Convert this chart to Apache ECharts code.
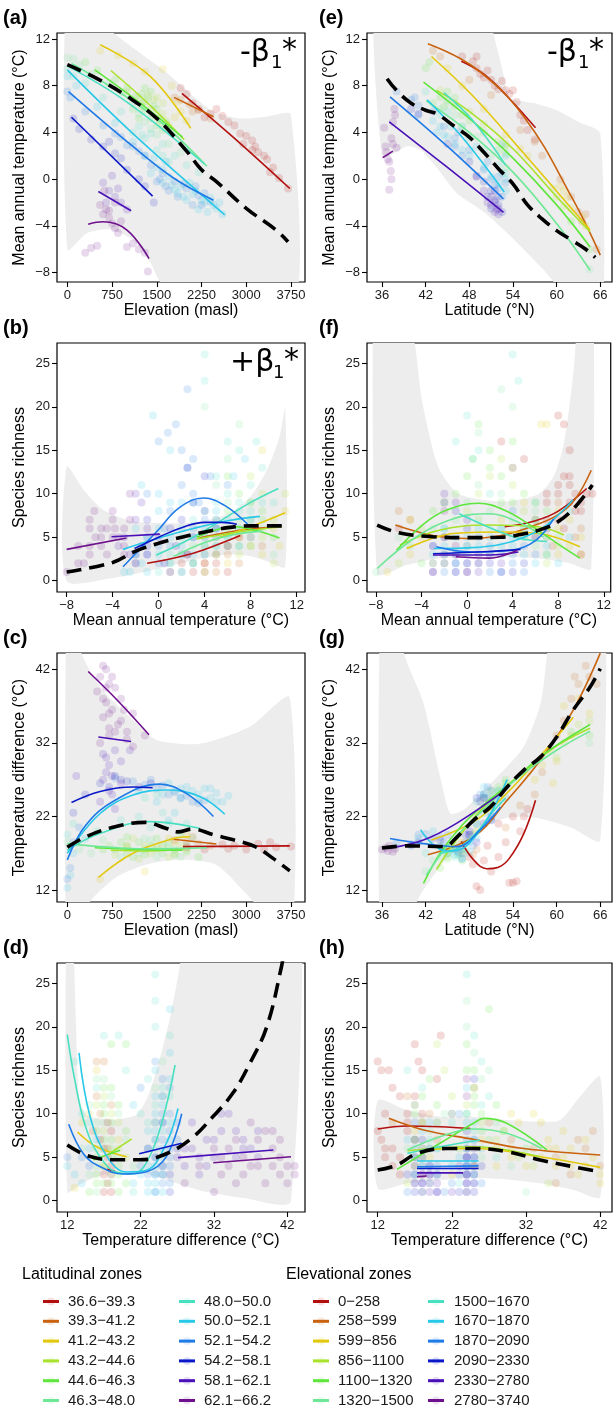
<!DOCTYPE html>
<html><head><meta charset="utf-8">
<script src="https://cdn.jsdelivr.net/npm/echarts@6/dist/echarts.min.js"></script>
<style>html,body{margin:0;padding:0;background:#fff}#c{width:614px;height:1410px}</style>
</head><body><div id="c"></div>
<script>
// ---------- palette & zone labels ----------
const palette = ['#B2100E','#C8620E','#E2C80C','#A8E22A','#5EE63C','#6EE896','#48E0C0','#28C8E8','#1E7AE6','#0A18C8','#4A10B8','#6E108C'];
const latZones = ['36.6\u221239.3','39.3\u221241.2','41.2\u221243.2','43.2\u221244.6','44.6\u221246.3','46.3\u221248.0','48.0\u221250.0','50.0\u221252.1','52.1\u221254.2','54.2\u221258.1','58.1\u221262.1','62.1\u221266.2'];
const elevZones = ['0\u2212258','258\u2212599','599\u2212856','856\u22121100','1100\u22121320','1320\u22121500','1500\u22121670','1670\u22121870','1870\u22122090','2090\u22122330','2330\u22122780','2780\u22123740'];

// ---------- tick labels ----------
const ticksElev = [0,750,1500,2250,3000,3750];
const ticksMAT = [-8,-4,0,4,8,12];
const ticksLat = [36,42,48,54,60,66];
const ticksRich = [0,5,10,15,20,25];
const ticksTD = [12,22,32,42];

// ---------- panel (a): elevation vs MAT, latitudinal zones ----------
const ptsA = [
 [[1900,7.8],[2000,7.3],[2100,6.5],[2200,6.0],[2300,5.3],[2400,5.6],[2500,6.0],[2600,5.4],[2700,4.9],[2800,4.6],[2900,3.9],[2950,3.0],[3000,3.7],[3100,3.3],[3100,2.5],[3150,2.8],[3200,2.3],[3300,2.0],[3350,1.7],[3400,0.6],[3450,1.0],[3550,0.1],[3700,-0.8]],
 [[1800,7.0],[1900,6.8],[2050,6.4],[2100,5.8],[2200,5.9],[2400,5.2]],
 [[550,11.0],[850,10.6],[1100,9.9],[1300,9.2],[1600,9.4],[1750,8.0],[1800,5.3],[1850,6.6],[1900,5.8],[2000,5.0]],
 [[1000,7.5],[1200,7.0],[1300,6.6],[1350,7.2],[1400,6.0],[1450,6.8],[1500,5.4],[1550,4.8],[1600,5.6],[1700,4.6],[1250,6.2],[1500,7.0],[1600,6.5],[1650,5.0]],
 [[300,10.0],[500,9.3],[800,8.5],[1000,7.8],[1150,7.1],[1250,6.5],[1250,7.3],[1300,5.9],[1350,6.9],[1400,5.2],[1500,4.6],[1600,4.2],[1100,6.0],[1200,5.2],[1300,7.8],[1400,7.5],[1450,6.3],[1500,6.0],[1550,5.2],[1650,4.8]],
 [[0,10.4],[100,10.3],[200,9.8],[400,9.0],[700,8.2],[900,7.4],[1100,6.6],[1200,5.6],[1300,4.9],[1400,4.3],[1500,3.8],[1700,3.0],[1900,2.3]],
 [[0,9.4],[100,8.8],[300,8.2],[600,7.0],[900,5.8],[1100,4.0],[1200,4.5],[1250,3.8],[1400,3.9],[1600,3.0],[1800,2.0],[2000,1.2],[2200,0.6],[1300,3.5],[1500,2.5],[1600,2.0],[1700,1.5]],
 [[0,8.8],[150,8.0],[500,6.2],[800,4.8],[1100,3.2],[1300,2.0],[1400,0.5],[1500,1.0],[1600,-0.3],[1700,0.2],[1800,-0.9],[1900,-0.6],[2000,-1.8],[2100,-1.3],[2200,-2.6],[2300,-2.0],[2400,-1.6],[2500,-2.5],[2600,-3.0],[1600,0.8],[1750,-0.5],[1850,-1.2],[1950,-1.5],[2050,-0.3],[2150,-1.0],[2250,-1.8],[2350,-2.8],[2450,-2.2],[2550,-2.0],[1650,1.5],[1450,1.8]],
 [[0,7.5],[50,7.0],[300,5.8],[600,4.6],[900,3.6],[1100,2.8],[1200,2.4],[1400,1.2],[1500,-0.2],[1600,0.5],[1700,-1.0],[1800,-0.2],[2000,-0.8],[2100,-2.2],[2200,-1.4],[2300,-1.2],[2400,-1.9],[1300,2.0],[1550,0.0],[1650,-0.6],[1850,-1.5],[1950,-0.4],[2150,-0.6],[2250,-2.2],[1000,2.9],[800,3.9]],
 [[100,5.2],[200,4.3],[400,3.4],[600,2.8],[700,3.2],[800,2.2],[900,1.8],[1000,0.8],[1200,0.0],[1300,-0.6],[1450,-2.0]],
 [[600,-0.3],[650,-2.0],[700,-1.0],[750,0.3],[800,-1.5],[850,-0.8],[900,-2.0],[1000,-2.6]],
 [[300,-6.3],[400,-5.9],[500,-5.7],[550,-2.2],[600,-3.0],[620,-1.0],[650,-2.6],[700,-3.3],[700,-2.7],[750,-3.8],[800,-4.2],[800,-2.0],[850,-4.6],[900,-3.6],[1000,-5.8],[1100,-5.5],[1200,-6.0],[1300,-6.3],[1350,-7.9]]
];
const curvesA = [
 [0,[[1920,7.35],[2780,3.6],[3730,-0.8]]],
 [1,[[1790,7.0],[2450,5.35]]],
 [2,[[550,11.5],[1390,8.8],[2070,4.35]]],
 [3,[[730,9.3],[1350,6.5],[1960,3.4]]],
 [4,[[460,9.35],[1200,6.6],[1930,3.6]]],
 [5,[[70,9.9],[1390,5.6],[2340,1.1]]],
 [6,[[0,9.7],[1000,6.6],[2300,1.3]]],
 [7,[[0,9.35],[1100,3.9],[2640,-3.05]]],
 [8,[[20,7.5],[1100,2.8],[1780,0.1],[2450,-1.8]]],
 [9,[[70,5.3],[1430,-1.45]]],
 [10,[[520,-1.05],[1070,-2.7]]],
 [11,[[350,-3.85],[600,-3.65],[1000,-4.35],[1370,-6.8]]]
];
const blackA = [[0,9.8],[500,8.6],[1000,7.1],[1500,5.2],[2000,2.4],[2250,0.8],[2500,-0.2],[3000,-2.5],[3500,-4.35],[3700,-5.35]];
const upA = [[0,17],[400,14],[771,12.5],[1218,10.8],[1666,9.1],[2113,7.1],[2448,5.8],[2895,5.2],[3342,5.35],[3750,5.5]];
const loA = [[0,-6.0],[335,-4.6],[720,-4.3],[1100,-5.2],[1390,-7.1],[1560,-8.8],[2000,-11],[3750,-12]];

// ---------- panel (e): latitude vs MAT, elevational zones ----------
const ptsE = [
 [[47,10.5],[48.5,10.1],[49,9.5],[49,10.5],[49.5,9.0],[50,8.7],[50.5,9.3],[51,8.5],[51.5,8.0],[52,7.7],[52.5,8.4],[53,7.6],[53.5,7.3],[54,7.6],[54.5,6.6],[55,5.5],[55.5,5.0],[56,4.2],[57,3.4]],
 [[43,11],[44,10.5],[48,8.5],[51,7.2],[55,4.2],[57,3.2],[58,2.0],[60.5,0.0],[62,-1.5],[63,-2.8],[63.5,-3.6],[64,-3.0],[65.5,-6.0]],
 [[45,9.5],[47,8.0],[50,6.0],[53,3.8],[55,2.6],[56,2.0],[60.5,-0.6],[61,-1.0],[61.5,-1.5],[62,-2.5],[63.5,-3.2],[64,-4.0]],
 [[44,7.6],[46,6.5],[48,5.8],[50,4.7],[52,3.2],[53,3.0],[59.5,-0.8],[60,-1.5],[61,-2.3]],
 [[42,9.5],[42.5,10.0],[44,7.0],[45,6.8],[46,6.2],[47,5.5],[48,5.0],[50,4.0],[52,2.5],[53,2.2],[62,-3.6],[64.5,-6.0],[45,7.5],[46,7.0],[44.5,6.2],[43,6.5],[53,2.8]],
 [[44,6.0],[45,6.5],[46,5.5],[47,4.5],[49,3.6],[51,2.0],[53,1.0],[64.5,-7.7]],
 [[42,7.5],[44,5.5],[45,5.8],[47,4.5],[48,3.5],[50,2.5],[52,1.2],[53,0.5]],
 [[43,5.0],[43.5,4.0],[44,4.5],[45,3.6],[46,3.0],[47,2.5],[48,2.0],[49,2.8],[50,1.0],[51,0.2],[52,-0.4],[53,-1.0],[52.5,0.5],[53,0.0],[53,2.0],[52.5,3.0],[44.5,3.8],[45.5,4.5]],
 [[38,7.5],[40,6.8],[40.5,7.0],[41,6.3],[41,5.5],[43,5.8],[44.5,4.5],[46,3.5],[46.5,4.0],[48,2.5],[50,0.8],[51,0.0],[52,-0.8],[52.5,-1.5],[50.5,1.5],[51.5,-0.5],[52,0.2],[53,-0.3],[46,2.8],[47,2.0]],
 [[40,6.0],[41,5.6],[45,3.0],[48,1.5],[49,0.3],[50,-0.2],[51,-1.0],[51.5,-1.8],[52,-2.2],[51,-2.5],[51.5,-1.0],[52,-1.5],[52.5,-2.8],[50.5,-1.5]],
 [[49,0.2],[50,-1.0],[50.5,-2.0],[51,-2.2],[51,-1.5],[51.5,-2.8],[52,-2.5],[52,-3.0],[51.5,-2.0],[51.8,-2.6]],
 [[36.3,4.4],[36.5,2.8],[36.6,2.3],[36.8,1.7],[37,1.5],[37.2,0.7],[37.3,0.0],[37,-0.9],[37.3,3.5],[37.5,3.0],[37.5,4.9],[37.7,6.0],[37.8,5.5],[38,2.7]]
];
const curvesE = [
 [0,[[46.9,10.1],[50,9.0],[53.2,7.1],[57.1,4.4]]],
 [1,[[42.3,11.6],[48.6,9.6],[55.5,5.35],[62.3,-1.8],[66,-6.5]]],
 [2,[[42.8,10.5],[48.6,7.05],[55.5,2.2],[64.6,-4.35]]],
 [3,[[43.5,7.6],[48,5.8],[54,2.6],[60,-1.5],[64.6,-4.5]]],
 [4,[[41.7,8.3],[48,5.2],[54,1.8],[60,-2.2],[64.6,-5.8]]],
 [5,[[42.1,6.7],[48,4.0],[54,0.6],[60,-3.8],[64.6,-7.8]]],
 [6,[[44.5,7.4],[48.5,5.0],[53,1.2]]],
 [7,[[42.2,6.8],[47,3.6],[52.8,-1.1]]],
 [8,[[37.1,7.05],[45,2.8],[52.7,-1.7]]],
 [10,[[37.0,4.9],[45,1.0],[52.7,-2.85]]],
 [11,[[36.1,1.85],[37.5,2.4]]]
];
const blackE = [[36.7,8.6],[38,7.6],[40,6.5],[42,5.9],[43.5,5.6],[46,4.5],[48,3.6],[50,2.3],[52,0.9],[54,-0.4],[56,-2.2],[58,-3.4],[60,-4.4],[62,-5.2],[64,-6.0],[65.3,-6.7]];
const upE = [[36,20],[50,16],[51.3,12.5],[52.5,9.5],[53.5,7.0],[55,6.7],[57,6.5],[60,5.9],[63,4.9],[66,3.9]];
const loE = [[36,1.9],[39.4,2.8],[41.3,2.5],[43.5,1.0],[46.3,-1.2],[50,-2.8],[53.2,-4.6],[57.8,-7.5],[59.6,-8.8],[62,-11],[66,-14]];

// ---------- panel (b): MAT vs richness, latitudinal zones ----------
const ptsB = [
 [[1,1],[2,2],[2.5,3],[3,1],[4,2],[4,1],[5,3],[5,2],[6,4],[6,1],[7,5]],
 [[4,2],[5,1],[6,3],[7,2],[8,5],[9,4]],
 [[6,2],[7,5],[8,4],[9,3],[9,15],[10,6],[10.5,4],[11,8]],
 [[4,1],[5,5],[6,4],[7,3],[8,6],[8,12],[9,5],[9,10],[10,7],[10,2],[11,10]],
 [[3,2],[4,4],[5,3],[6,6],[6,12],[7,4],[7,10],[8,7],[8,9],[9,8],[10,5],[6,8],[7,6],[8,4],[9,7]],
 [[1,2],[2,1],[3,4],[4,3],[4,20],[5,6],[5,11],[6,5],[6,14],[7,7],[7,18],[8,9],[9,6],[2,3],[3,2],[4,5],[5,4],[10,3],[5,7],[6,9]],
 [[0,1],[1,3],[2,5],[3,7],[4,26],[4,23],[4,8],[5,9],[5,12],[6,10],[6,16],[7,8],[7,15],[8,11],[8.5,16],[9,13],[10,9],[7,9],[8,8],[9,9]],
 [[-3,1],[-2.5,1],[-1.5,2],[-1.5,11],[-1,1],[-0.5,19],[0,3],[0,10],[1,2],[1,9],[1,15],[2,4],[3,5],[3,9],[4,6],[5,4],[5,8],[6,7],[6.5,12],[7,6],[7.5,14],[8,5],[-2,3],[-1,5],[0,6],[1,5],[2,6],[3,3],[4,4],[5,6],[6,5],[7,4],[8,7],[-2,6],[0,8],[2,9]],
 [[-2,2],[-1,3],[-1,10],[0,4],[0,16],[0.5,6],[0.8,17],[1,8],[1.5,18],[2,11],[2,15],[2.5,13],[2.5,22],[3,10],[3,14],[3.5,9],[4,7],[4.5,12],[5,5],[6,11],[-1,5],[0,2],[1,4],[2,3],[3,6],[4,5],[5,7],[6,4],[1,1],[2,1],[3,2],[4,3]],
 [[-2,3],[-1,4],[-1,7],[0,5],[0.5,2],[1,6],[1.5,4],[2,7],[2.5,3],[2.5,13],[3,9],[3,5],[4,8],[4,12],[5,6]],
 [[-3.5,4],[-3,5],[-2.5,3],[-2,7],[-2,10],[-1.5,4],[-1.5,9],[-1,6],[-1,3]],
 [[-8,1],[-7,4],[-6.5,2],[-6,3],[-6,6],[-6,7],[-5.6,8],[-5,4],[-5,5],[-4.5,3],[-4,7],[-4,5],[-3.8,6],[-3.5,5],[-3,4],[-3,6],[-2.5,7],[-2.5,10],[-2,2],[-7,2],[-6,4],[-5,6],[-4,8],[-3,3],[-4.5,6],[-5.5,5]]
];
const curvesB = [
 [0,[[-1,2.0],[2,2.8],[4,3.6],[7.1,5.2]]],
 [1,[[3.5,4.9],[7,5.8],[9.5,6.1]]],
 [2,[[5.3,5.0],[8,6.2],[11,7.8]]],
 [3,[[3.3,4.8],[7,5.6],[10.7,6.2]]],
 [4,[[3.3,5.0],[6.5,6.2],[10.5,4.9]]],
 [5,[[1.3,2.8],[4,4.4],[6.5,5.3],[9,5.7]]],
 [6,[[-0.2,2.95],[3,5.0],[6,7.4],[8,9.0],[10.4,10.6]]],
 [7,[[-3.1,3.6],[0,4.9],[3,6.0],[6,6.9],[8.8,7.4]]],
 [8,[[-3.1,1.6],[-0.2,5.6],[1.8,8.4],[3.9,9.5],[5.8,8.6],[7.8,6.4]]],
 [9,[[-2.1,3.7],[0,5.0],[2,6.1],[4,6.7],[5.5,6.7],[6.8,6.5]]],
 [10,[[-4.1,5.05],[0.1,5.35]]],
 [11,[[-8,3.6],[-2.8,4.9]]]
];
const blackB = [[-8,1.0],[-4,2.1],[-2,3.4],[0,4.3],[2,5.0],[4,5.6],[6,6.1],[8,6.3],[11,6.3]];
const upB = [[-8,13.1],[-6.5,10.4],[-5,8.3],[-3.6,7.4],[-2.2,6.8],[0.7,6.6],[3,6.7],[5,7.2],[6.5,8.0],[8,9.7],[9.4,12.7],[10.5,16.5],[11,19.8]];
const loB = [[-8,0],[-4,0.3],[-2,0.8],[2,2.0],[4,2.6],[6,3.0],[8,2.8],[9.5,2.2],[11,1.6]];

// ---------- panel (f): MAT vs richness, elevational zones ----------
const ptsF = [
 [[-6,6],[3,16],[4,13],[5,14],[6,5],[7,10],[7,7],[8,11],[8,19],[8.5,12],[8.5,18],[8.5,6],[9,15],[9,9],[9.5,10],[9.5,8],[10,8],[10,3],[10.5,10],[11,10],[7,9],[8,10],[9,12],[10,9],[9,11],[8,7]],
 [[-6,8],[-5,7],[6,7],[7,6],[7.5,4],[8,9],[9.5,5],[10,6]],
 [[-7,1],[-5,7],[-4,5],[3,7],[5,9],[6,6],[6.5,18],[7,5],[7,18],[8,8],[8,3],[9,4],[10,3],[-5,3],[-3,2],[8,6],[9,7],[10,5]],
 [[-6,2],[-4,6],[-2,9],[0,8],[1,10],[2,12],[3,14],[4,11],[5,8],[6,7],[7,2],[8,4]],
 [[-5,4],[-3,8],[-1,10],[0,12],[0.5,14],[1,18],[2,13],[2,15],[3,12],[4,16],[4,9],[5,10],[6,9],[7,8],[-4,2],[-2,2],[1,7],[3,9],[5,5],[7,3]],
 [[-8,1],[-6,5],[-3,6],[-1,7],[0,9],[1,11],[1,17],[2,8],[3,10],[3,22],[4,13],[4,20],[5,6],[6,4],[-2,3],[0,4],[2,6],[4,7],[6,8],[8,5]],
 [[-2,6],[-1,16],[0,19],[0.5,14],[1,15],[2,10],[3,6],[4,26],[4.5,23],[5,5],[6,9],[7,3],[9,8]],
 [[-3,3],[-2,4],[-1,5],[0,3],[1,4],[2,5],[3,6],[4,4],[5,3],[6,7],[7,5],[8,2],[9,5],[-2,6],[-1,2],[0,5],[1,6],[2,3],[3,4],[4,5],[5,6],[6,2],[7,4]],
 [[-3,2],[-2,1],[-1,3],[0,4],[1,2],[2,1],[3,3],[4,2],[4,8],[5,4],[6,3],[7,6],[-3,4],[-2,5],[-1,1],[0,2],[1,5],[2,4],[3,1],[4,3],[5,1],[6,5]],
 [[-3,1],[-2,3],[-2,9],[-1,2],[-1,8],[0,1],[0,6],[1,3],[2,2],[3,1],[4,1],[5,2]],
 [[-3,4],[-2,2],[-2,10],[-1,1],[-1,9],[0,2],[0,7],[1,1],[2,3],[3,2]],
 [[-3,1],[-2,5],[-2,8],[-1,3],[-1,4],[0,1],[1,2]]
];
const curvesF = [
 [0,[[3.3,6.2],[6,6.9],[8,8.0],[10.5,10.6]]],
 [1,[[-6.3,6.4],[-3,5.2],[0,4.85],[3,5.2],[6,6.4],[8,7.6],[9.5,9.4],[10.9,12.7]]],
 [2,[[-5.3,3.7],[-1,5.45],[3.3,5.6],[6.2,5.45],[9.9,3.9]]],
 [3,[[-5.9,4.1],[-2.45,5.8],[1.9,6.4],[6.2,6.2],[8.5,5.25]]],
 [4,[[-6.2,3.5],[-4,6.3],[-2,8.0],[1,8.9],[3.3,8.1],[6,6.0],[8,4.2],[9.9,2.6]]],
 [5,[[-7.9,1.4],[-4.5,5.0],[-1,7.2],[1.9,7.7],[4.7,6.6],[6.7,5.0]]],
 [6,[[-0.7,7.7],[2,6.1],[4.5,4.9],[7,4.5]]],
 [7,[[-2.9,3.7],[0.4,3.8],[3,4.2],[5,5.0],[7,6.4],[9.3,9.3]]],
 [8,[[-2.7,3.9],[0.4,3.3],[3.9,3.5],[6,4.6],[7.6,7.1]]],
 [9,[[-3,3.1],[1.9,3.35],[4.7,3.6]]],
 [10,[[-3,2.95],[2,2.95],[4.5,3.3]]],
 [11,[[-1,2.75],[1.9,2.6],[4.4,3.5]]]
];
const blackF = [[-7.9,6.4],[-6,5.5],[-3,5.05],[0,4.95],[3,5.0],[5,5.4],[6.5,5.9],[8,6.8],[9.5,8.5],[11,11.0]];
const upF = [[-7.9,45],[-5.5,32],[-4.6,27.3],[-4,21],[-3,15],[-2.4,12.7],[-1,10.2],[0.4,9.5],[3.3,9.1],[6.2,9.9],[7.6,12],[8.5,15.8],[9.3,23.5],[9.7,30],[10.9,45]];
const loF = [[-7.9,0.84],[-5.3,1.8],[-2.45,2.57],[0.4,2.76],[3.3,2.76],[6.2,2.57],[9,2.0],[10.9,1.42]];

// ---------- panel (c): elevation vs temperature difference, latitudinal zones ----------
const ptsC = [
 [[2000,17.8],[2300,17.5],[2600,18.2],[2700,17.6],[2800,18.0],[3000,17.5],[3200,18.3],[3300,17.5],[3400,18.5],[3500,17.8],[3750,17.9]],
 [[1800,18.8],[2000,18.5],[2100,19.2],[2200,18.3],[2400,18.0]],
 [[550,13.5],[1000,18.0],[1300,14.5],[1700,19.0],[1800,18.5],[2000,19.5]],
 [[800,16.8],[1000,17.8],[1100,19.0],[1200,16.2],[1400,17.0],[1600,18.2],[1800,17.0],[2000,17.5],[1300,18.0],[1500,17.8],[1700,16.5],[1900,18.0]],
 [[600,17.5],[900,18.5],[1000,17.0],[1100,16.5],[1200,18.5],[1300,17.5],[1400,18.0],[1500,19.0],[1600,17.0],[1800,16.8],[1900,19.5],[700,18.0],[1000,19.2],[1300,16.8],[1500,17.5],[1700,17.8],[2000,17.2],[2200,16.5]],
 [[0,18.5],[200,17.5],[400,17.0],[800,17.5],[1000,18.0],[1200,17.0],[1300,19.0],[1500,16.5],[1700,18.5],[1800,17.5],[2000,18.0],[600,18.8],[900,16.5],[1400,18.8],[1600,18.0],[1900,16.5],[2100,19.0]],
 [[0,19.5],[100,21.0],[500,20.0],[900,21.5],[1200,22.0],[1300,24.5],[1400,20.5],[1500,25.0],[1600,22.5],[1700,21.0],[2000,21.0]],
 [[0,12.3],[50,14.0],[100,17.0],[300,19.0],[1200,25.5],[1600,25.0],[1700,21.5],[1800,25.5],[1800,22.5],[1900,24.5],[2000,26.0],[2200,25.0],[2300,25.8],[2400,24.5],[2500,25.2],[2600,24.0],[1700,26.5],[1900,25.8],[2100,25.5],[2200,24.2],[2400,25.8],[2500,24.0],[2700,24.8],[1500,24.0]],
 [[0,13.5],[50,15.0],[100,18.5],[200,20.5],[800,27.2],[1100,26.8],[1300,26.3],[1500,25.8],[1600,26.2],[1700,25.0],[1900,24.5],[2100,24.0],[2300,24.2],[1800,25.3],[2000,24.8],[2200,23.8],[1400,27.0]],
 [[100,22.5],[300,25.0],[550,26.5],[700,26.0],[800,27.5],[900,27.0],[1000,26.8],[1200,26.0],[1400,26.5]],
 [[150,27.5],[550,24.0],[600,30.5],[650,28.0],[700,29.0],[700,25.5],[750,27.5],[800,31.0],[800,23.0],[900,26.5],[1050,31.0],[650,30.0],[600,27.0],[750,25.0],[900,29.5]],
 [[500,39.0],[550,41.0],[550,32.0],[600,42.5],[600,35.5],[650,42.0],[650,37.5],[700,40.0],[700,34.0],[700,33.0],[750,36.5],[800,39.5],[850,34.5],[900,38.0],[900,35.0],[1000,33.5],[1000,32.5],[1100,36.0],[1100,31.5],[1300,33.0],[650,39.5],[750,41.0],[600,38.0],[700,36.0],[800,33.5],[950,36.5]]
];
const curvesC = [
 [0,[[1940,17.9],[3730,18.0]]],
 [1,[[1780,18.9],[2500,18.25]]],
 [2,[[520,13.7],[1100,17.0],[1780,19.0],[2060,19.25]]],
 [3,[[730,17.4],[1350,17.3],[1960,17.6]]],
 [4,[[460,17.75],[1200,17.5],[1930,17.4]]],
 [5,[[0,18.3],[550,17.9],[1390,17.6],[2340,17.75]]],
 [6,[[0,17.4],[550,19.7],[1390,21.3],[2220,20.4]]],
 [7,[[0,17.0],[550,22.4],[1100,24.9],[1670,25.6],[2220,24.7],[2640,22.3]]],
 [8,[[0,16.1],[300,20.7],[800,24.2],[1550,26.4],[2000,25.1],[2450,22.0]]],
 [9,[[70,23.9],[550,25.4],[1100,26.0],[1430,25.9]]],
 [10,[[520,32.8],[1070,32.2]]],
 [11,[[350,41.7],[850,37.7],[1370,33.1]]]
];
const blackC = [[0,17.8],[300,19.2],[800,20.6],[1300,21.2],[1650,20.4],[1850,19.9],[2100,20.3],[2450,19.5],[2800,18.8],[3150,17.9],[3450,16.3],[3730,14.6]];
const upC = [[0,55],[200,45],[550,39.6],[1100,35.1],[1500,32.4],[2220,31.9],[3060,34.2],[3730,38.1]];
const loC = [[0,0],[300,8],[380,10.4],[830,13.8],[1390,15.6],[1950,16.1],[2500,15.4],[3000,11.5],[3120,10.4],[3730,2]];

// ---------- panel (g): latitude vs temperature difference, elevational zones ----------
const ptsG = [
 [[47,17],[48,16.5],[48.5,15.5],[49,12.5],[49.5,12],[50,16],[50.5,18],[51,14.5],[52,16.5],[52,21],[53,18.5],[53.5,13],[54,13],[54,22],[54.5,13.2],[55,20],[55.5,22],[56,23]],
 [[48.5,16.8],[49,17.5],[53,20.5],[55,23.5],[57,25],[58,28],[60,33],[61,35],[62,38],[62.5,41],[63,40],[64,42.5],[64.5,41],[65.5,40]],
 [[47,18.5],[49,20],[56,28],[57,27],[58,29],[59,31],[59.5,26.5],[60,29.5],[61,37],[62,33],[63,38],[64.5,36]],
 [[45,16.5],[47,18],[49,22],[51,24],[53,26],[60,30],[61,32],[63,34.5],[64.5,35]],
 [[44,15],[45,17],[46,18],[47,16],[50,24.5],[51,25.5],[52,26],[53,27],[62,33.5],[64.5,33],[45.5,17.5],[46.5,16.8],[47.5,17.5],[48.5,19.5],[51,24.5],[52,25.5],[53,26.5]],
 [[42,14.5],[43,16],[44,16.5],[46,17.5],[48,19],[50,23],[52,25],[64.5,32],[45,16.2],[47,17],[49,21],[51,23.5]],
 [[42,17],[44,18],[46,16.5],[47.5,17],[49,24],[50,25],[51.5,24.5]],
 [[41,19],[43,20],[45,17],[46,16.8],[47,16.2],[48,18.5],[50,26],[51,22.5],[53,24.5],[46.5,17.0],[47,17.5],[48,17.2],[49,19.0],[50,22.5],[51,21.5],[52,25.5]],
 [[38,18.5],[40,18],[41,19.5],[42,19.6],[44,19.2],[46,17.5],[47,16.3],[48,19.5],[49,21],[50,25],[50.5,26],[52,24],[44.5,18.5],[45,19.5],[46.5,17.2],[47.5,18.5],[48.5,18.0],[49.5,25],[50.5,24.5],[51,25.5]],
 [[40,18.2],[41,18.5],[43,19],[44,18.8],[47,18],[48,20],[49,24.5],[51,22],[49.5,24],[50,24.5],[47.5,19.5]],
 [[48,19.5],[49,18.5],[50,21],[51,21.5]],
 [[36,17.5],[36.5,17.7],[36.8,17.3],[37,18],[37.5,17.2],[37.8,17.6]]
];
const curvesG = [
 [0,[[46.9,18.6],[48.5,16.2],[50.4,14.9],[52,15.1],[53.5,16.3],[55.5,19.7],[57.1,24.2]]],
 [1,[[42.3,16.8],[48.6,19.25],[53.2,24.2],[57.8,29.7],[62.3,36.5],[66,44.2]]],
 [2,[[42.8,18.8],[48.6,21.3],[53,25],[58,30.5],[62.3,35.5]]],
 [3,[[43.5,14.8],[46,18.5],[50,23.3],[55,27.7],[60,31.6],[64.6,34.0]]],
 [4,[[41.7,12.9],[44,17],[47,20.8],[50,23.6],[54,26.8],[58,30.3],[64.6,34.5]]],
 [5,[[42.1,14],[45,18],[50,23],[55,27.5],[60,31],[64.6,33.6]]],
 [6,[[44,17.0],[46.5,17.7],[49,19.8],[51,22.4],[53,24.5]]],
 [7,[[41.3,20.2],[43,18.2],[45,17.3],[47,17.6],[49,19.5],[51,22.5],[53.2,27.0]]],
 [8,[[37.1,19.0],[41.7,18.3],[46.3,17.9],[49.5,20.2],[52.3,23.3]]],
 [10,[[37.0,17.7],[41.7,18.8],[46.3,21.1],[52.7,25.4]]],
 [11,[[36.1,17.7],[37.5,17.9]]]
];
const blackG = [[36,17.7],[39.4,18.0],[44.5,17.9],[46.3,19.2],[48.6,21.5],[50.9,23.3],[53.2,26.0],[55.5,28.3],[57.8,30.1],[60,32.8],[62.3,36.5],[64.6,39.6],[66,42.1]];
const upG = [[36,60],[38,50],[39,44.2],[41.7,37.4],[44,27.4],[45.4,22.4],[47.2,22.9],[49.5,25.1],[53.2,28.8],[55.5,31.5],[57.8,37.4],[58.7,44.2],[60,55],[66,60]];
const loG = [[36,0],[40,5],[40.8,10.4],[44,15.2],[46.3,17.5],[49,20],[51.5,21.3],[53.2,21.8],[55,22.0],[57.8,21.7],[62,20.5],[66,18.8]];

// ---------- panel (d): temperature difference vs richness, latitudinal zones ----------
const ptsD = [
 [[17,1],[17,3],[17,6],[17.5,2],[17.5,5],[17.5,9],[18,3],[18,4],[18,8],[18,1],[16.5,7]],
 [[15.5,8],[16,12],[16,16],[16.5,10],[17,16],[17.5,6],[18,11]],
 [[13,1.5],[14,9],[15,10],[16,15],[17,4],[19,7]],
 [[16,11],[17,12],[17,8],[18,10],[19,6],[19,9],[20,5]],
 [[15,1],[16,2],[16,5],[17,7],[17,13],[18,6],[18,18],[19,11],[19,3],[20,8],[20,18],[20,2],[16,3],[16,6],[17,2],[17,4],[17,10],[18,2],[18,5],[18,7],[18,9],[19,1],[19,4],[16,8],[17,11],[18,13]],
 [[14,6],[15,3],[15,11],[16,4],[16,14],[17,9],[18,12],[19,10],[20,7],[21,4],[24,13],[24,9],[25,16],[16,1],[17,6],[18,3],[19,5],[16,9],[17,14]],
 [[13,16],[14,10],[15,9],[16,13],[17,19],[19,19],[20,15],[21,1],[22,10],[23,14],[24,7],[24,26],[24,23],[24,20],[25,12],[26,19],[23,9],[24,11],[25,13],[26,12]],
 [[12,4],[13,3],[14,2],[15,6],[16,7],[21,2],[21,11],[22,3],[23,1],[23,8],[24,2],[24,4],[24,6],[24,15],[25,5],[25,3],[25,11],[26,14],[26,17],[26,22],[24,1],[24,3],[24,5],[24,8],[24,10],[25,1],[25,4],[25,6],[25,8],[25,9],[24,12],[26,7],[26,9],[23,2],[23,4],[23,6]],
 [[12,5],[14,5],[15,4],[22,4],[22,13],[23,3],[24,1],[24,16],[25,2],[25,7],[25,12],[26,5],[26,10],[26,13],[27,9],[24,3],[24,7],[24,9],[25,3],[25,10],[26,2],[26,4],[26,6],[26,8],[27,7],[25,14]],
 [[23,6],[24,5],[25,4],[25,9],[26,3],[26,1],[27,6]],
 [[27,5],[28,4],[29,6],[29,9],[30,3],[31,7],[31,4],[32,5],[33,10],[34,10],[35,5],[36,7],[37,6],[38,5],[38,8],[28,6],[30,5],[32,7],[33,8],[35,8],[36,6]],
 [[28,2],[30,4],[32,6],[32,1],[33,5],[34,4],[35,7],[35,2],[36,3],[37,4],[37,9],[38,7],[39,8],[39,2],[40,6],[40,8],[41,3],[41,7],[42,4],[42,2],[33,3],[34,6],[36,5],[38,4],[40,4],[41,5],[43,4],[43,3]]
];
const curvesD = [
 [0,[[17.4,3.6],[18.5,3.4]]],
 [2,[[13.4,7.9],[16,6.2],[20.1,5.05]]],
 [3,[[17.8,5.45],[20.8,7.1]]],
 [4,[[15.5,4.7],[19.2,5.8]]],
 [6,[[12,19.1],[13,14],[14.5,8.5],[16.5,5],[19,3.2],[21,3.1],[23,4.7],[25,9.3],[26.7,15.6]]],
 [7,[[13.6,17.0],[15.1,9.7],[17.4,5.1],[20.1,3.3],[22.8,3.5],[25.5,6.6],[27.1,10.6]]],
 [8,[[12.2,8.8],[14.2,5.4],[16.5,3.9],[19.6,3.07],[22.8,3.33],[25.5,5.06],[27.6,10.0]]],
 [9,[[21.8,5.4],[27.6,6.6]]],
 [10,[[27.1,4.95],[40.1,5.83]]],
 [11,[[31.9,4.37],[42.5,5.06]]]
];
const blackD = [[12,6.4],[15,5.1],[18.7,4.7],[21.9,4.7],[25.1,5.25],[28.7,7.0],[31.9,9.7],[34.6,12.4],[36.9,15.8],[39.2,20.0],[41.2,26.9],[41.6,29]];
const upD = [[12,40],[12.8,30],[13.2,20],[13.6,12],[14.5,9.9],[16,9.5],[18,9.3],[20,9.5],[21.5,9.9],[23,12],[24.5,16],[26,21],[27.5,28],[28,35],[42.5,50]];
const loD = [[12,1.0],[14,2.0],[16.5,2.9],[19,3.3],[21.9,3.3],[24,2.8],[26.9,2.0],[30,1.2],[32.4,0.8],[36,0.3],[42.5,0.0]];

// ---------- panel (h): temperature difference vs richness, elevational zones ----------
const ptsH = [
 [[12,16],[12,8],[12.5,15],[12.5,7],[13,10],[13,6],[13,5],[13.5,15],[14,13],[14,4],[15,12],[15,3],[16,10],[16,9],[17,18],[17,7],[17.5,16],[18,15],[20,14],[20.5,19],[16,8],[17,12],[18,10],[14,6],[15,5]],
 [[14,9],[16,12],[17,11],[18,9],[19,10],[20,7],[22,10],[25,13],[27,9],[30,7],[33,6],[36,5],[36,2],[38,3],[39,7],[40,6],[41,8],[42,4]],
 [[17,8],[18,6],[19,5],[20,9],[22,3],[25,4],[28,4],[30,10],[30,6],[31,9],[33,10],[34,9],[35,6],[35,7],[36,4],[37,5],[37,8],[38,6],[39,3],[40,4],[41,5],[42,3],[42,2],[26,7],[28,6],[30,5],[32,4],[34,5],[36,6],[38,4],[40,7]],
 [[16,2],[17,4],[18,5],[20,18],[21,15],[22,12],[24,11],[26,9],[28,7],[29,8],[31,5],[33,4],[35,2]],
 [[17,10],[18,12],[19,14],[20,11],[23,6],[24,15],[24,18],[25,12],[25,13],[26,10],[27,7],[27,22],[28,11],[29,8],[32,6],[17,7],[18,9],[19,6],[24,10],[25,11],[26,8],[25,15]],
 [[16,6],[17,5],[18,4],[19,8],[21,10],[24,20],[24,23],[25,17],[26,14],[26,5],[27,15],[28,9],[30,4],[32,1]],
 [[16,15],[17,11],[18,13],[19,7],[20,6],[22,9],[23,2],[24,26],[25,19],[25,8],[26,16],[26,11],[27,12],[28,5]],
 [[16,7],[17,3],[18,1],[19,2],[20,3],[20,9],[22,4],[22,10],[23,5],[24,6],[24,9],[24,13],[25,3],[26,6],[17,5],[18,8],[19,9],[20,6],[24,4],[24,10],[25,7],[25,9]],
 [[16,1],[17,2],[17,9],[18,6],[19,4],[21,1],[22,2],[23,3],[23,10],[24,4],[24,7],[25,5],[26,2],[17,6],[18,4],[19,6],[20,4],[24,1],[24,3],[24,5],[25,2],[25,4],[25,7],[17,7]],
 [[16,3],[17,1],[18,2],[18,7],[19,3],[20,1],[23,1],[24,3],[24,5],[25,1],[25,14],[26,4],[17,3],[18,5],[19,4],[20,3],[24,2],[24,4],[24,6],[25,3],[25,5],[24,8]],
 [[17,4],[18,3],[19,1],[20,2],[22,1],[23,4],[24,2],[25,6],[17,5],[18,2],[19,3],[20,1],[24,3],[25,2],[24,5]],
 [[17,2],[18,1],[18,3],[19,2],[24,1],[24,14],[24,12],[25,4]]
];
const curvesH = [
 [0,[[12,8.24],[15.95,8.59],[20.4,8.5],[24.5,8.3]]],
 [1,[[13.5,9.47],[18.2,8.13],[24.9,7.05],[31.7,6.0],[42,5.25]]],
 [2,[[17.3,5.83],[24.9,6.0],[33.9,5.06],[42,3.83]]],
 [3,[[16,5.75],[24.9,6.2],[33.9,5.06]]],
 [4,[[14.6,3.6],[20.4,6.6],[24.9,8.9],[26.3,9.47],[29.4,8.9],[34.8,5.83]]],
 [5,[[16,5.83],[20.4,7.36],[24.9,8.24],[29.4,7.75],[34.1,6.0]]],
 [6,[[16,5.44],[20.4,6.2],[25.8,6.98]]],
 [7,[[17.3,4.56],[25.6,4.56]]],
 [8,[[17.3,3.9],[25.6,4.0]]],
 [9,[[17.3,3.7],[25.6,3.7]]],
 [10,[[17.3,3.2],[23.5,3.2]]],
 [11,[[17.3,2.76],[18.6,2.84]]]
];
const blackH = [[12,3.53],[14.6,4.1],[17.3,5.44],[21.3,6.0],[24.9,6.0],[29.4,5.64],[33.9,4.68],[38.4,3.9],[42,3.33]];
const upH = [[12,11.5],[15.95,10.4],[20.4,9.66],[24.9,9.66],[29.4,9.28],[33.9,9.1],[36.6,9.28],[39.3,12.0],[42,14.26]];
const loH = [[12,1.42],[15.95,2.0],[20.4,2.38],[24.9,2.57],[29.4,2.45],[33.9,2.0],[38.4,1.23],[42,0.46]];

// ---------- layout ----------
const FONT = '"Liberation Sans", Arial, Helvetica, sans-serif';
const COLS = [{left:57,width:248},{left:367,width:245}];
const ROWS = [33,343,653,963];
const H = 249;
const MAT = 'Mean annual temperature (\u00B0C)', TD = 'Temperature difference (\u00B0C)';
const panels = [
 {lab:'(a)',c:0,r:0,x:[-173,3985],xt:ticksElev,y:[-8.8,12.51],yt:ticksMAT,xn:'Elevation (masl)',yn:MAT,pts:ptsA,cur:curvesA,blk:blackA,up:upA,lo:loA,beta:'-'},
 {lab:'(e)',c:1,r:0,x:[33.94,67.61],xt:ticksLat,y:[-8.8,12.51],yt:ticksMAT,xn:'Latitude (\u00B0N)',yn:MAT,pts:ptsE,cur:curvesE,blk:blackE,up:upE,lo:loE,beta:'-'},
 {lab:'(b)',c:0,r:1,x:[-8.84,12.72],xt:ticksMAT,y:[-1.3,27.33],yt:ticksRich,xn:MAT,yn:'Species richness',pts:ptsB,cur:curvesB,blk:blackB,up:upB,lo:loB,beta:'+'},
 {lab:'(f)',c:1,r:1,x:[-8.79,12.61],xt:ticksMAT,y:[-1.3,27.33],yt:ticksRich,xn:MAT,yn:'Species richness',pts:ptsF,cur:curvesF,blk:blackF,up:upF,lo:loF},
 {lab:'(c)',c:0,r:2,x:[-173,3985],xt:ticksElev,y:[10.37,44.22],yt:ticksTD,xn:'Elevation (masl)',yn:TD,pts:ptsC,cur:curvesC,blk:blackC,up:upC,lo:loC},
 {lab:'(g)',c:1,r:2,x:[33.94,67.61],xt:ticksLat,y:[10.37,44.22],yt:ticksTD,xn:'Latitude (\u00B0N)',yn:TD,pts:ptsG,cur:curvesG,blk:blackG,up:upG,lo:loG},
 {lab:'(d)',c:0,r:3,x:[10.6,44.41],xt:ticksTD,y:[-1.3,27.33],yt:ticksRich,xn:TD,yn:'Species richness',pts:ptsD,cur:curvesD,blk:blackD,up:upD,lo:loD},
 {lab:'(h)',c:1,r:3,x:[10.56,43.58],xt:ticksTD,y:[-1.3,27.33],yt:ticksRich,xn:TD,yn:'Species richness',pts:ptsH,cur:curvesH,blk:blackH,up:upH,lo:loH}
];

const fmt = v => (v < 0 ? '\u2212' + Math.abs(v) : String(v));
const grids = [], xAxes = [], yAxes = [], series = [], graphics = [];

panels.forEach((p, i) => {
  const col = COLS[p.c], top = ROWS[p.r];
  grids.push({left: col.left, top: top, width: col.width, height: H, show: true, borderColor: '#000', borderWidth: 1.2, backgroundColor: '#fff', containLabel: false});
  const axBase = (ticks) => ({
    axisLine: {show: false, onZero: false},
    axisTick: {show: true, length: 5, customValues: ticks, lineStyle: {color: '#000', width: 1.1}},
    axisLabel: {show: true, customValues: ticks, formatter: fmt, color: '#1a1a1a', fontSize: 13, fontFamily: FONT, margin: 7},
    splitLine: {show: false}
  });
  xAxes.push(Object.assign(axBase(p.xt), {type: 'value', gridIndex: i, min: p.x[0], max: p.x[1], position: 'bottom',
    name: p.xn, nameLocation: 'middle', nameGap: 20, nameTextStyle: {fontSize: 16, color: '#000', fontFamily: FONT, verticalAlign: 'top'}}));
  yAxes.push(Object.assign(axBase(p.yt), {type: 'value', gridIndex: i, min: p.y[0], max: p.y[1], position: 'left',
    name: p.yn, nameLocation: 'middle', nameGap: 29, nameTextStyle: {fontSize: 16, color: '#000', fontFamily: FONT}}));

  // confidence band
  const up = p.up, lo = p.lo;
  series.push({type: 'custom', xAxisIndex: i, yAxisIndex: i, clip: true, silent: true, z: 1,
    data: [[up[0][0], up[0][1]]],
    renderItem: function (params, api) {
      const pts = up.map(q => api.coord(q)).concat(lo.slice().reverse().map(q => api.coord(q)));
      return {type: 'polygon', shape: {points: pts, smooth: 0.25}, style: {fill: '#EDEDED', stroke: null}};
    }});
  // scatter points
  const sd = [];
  p.pts.forEach((arr, z) => arr.forEach(q => sd.push([q[0], q[1], z])));
  series.push({type: 'scatter', xAxisIndex: i, yAxisIndex: i, data: sd, symbolSize: 8, silent: true, z: 2,
    itemStyle: {color: prm => palette[prm.value[2]], opacity: 0.16}});
  // zone curves
  p.cur.forEach(cv => {
    series.push({type: 'line', xAxisIndex: i, yAxisIndex: i, data: cv[1], smooth: 0.4, showSymbol: false, silent: true, z: 3,
      lineStyle: {color: palette[cv[0]], width: 1.6}});
  });
  // overall fit
  series.push({type: 'line', xAxisIndex: i, yAxisIndex: i, data: p.blk, smooth: 0.4, showSymbol: false, silent: true, z: 4,
    lineStyle: {color: '#000', width: 3.6, type: [15, 8], cap: 'butt'}});

  // panel letter
  graphics.push({type: 'text', x: p.c === 0 ? 3 : 319, y: top - 15, style: {text: p.lab, font: 'bold 20px ' + FONT, fill: '#000', textVerticalAlign: 'middle'}});
  // beta annotation
  if (p.beta) {
    const right = col.left + col.width;
    const x0 = right - (p.beta === '+' ? 75 : 65);
    const yb = top + 20;
    const BF = '30px "DejaVu Sans", sans-serif';
    graphics.push({type: 'text', x: x0, y: yb, style: {text: p.beta + '\u03B2', font: BF, fill: '#000', textVerticalAlign: 'middle'}});
    const wb = p.beta === '+' ? 43 : 31;
    graphics.push({type: 'text', x: x0 + wb, y: yb + 10, style: {text: '1', font: '18px "DejaVu Sans", sans-serif', fill: '#000', textVerticalAlign: 'middle'}});
    graphics.push({type: 'text', x: x0 + wb + 11, y: yb - 2, style: {text: '*', font: BF, fill: '#000', textVerticalAlign: 'middle'}});
  }
});

// ---------- legends ----------
const legY0 = 1301.5, legDy = 19.8;
const legCols = [
  {labels: latZones, start: 0, lx: 43, tx: 68},
  {labels: latZones, start: 6, lx: 179, tx: 204},
  {labels: elevZones, start: 0, lx: 313, tx: 338},
  {labels: elevZones, start: 6, lx: 428, tx: 454}
];
graphics.push({type: 'text', x: 22, y: 1275, style: {text: 'Latitudinal zones', font: '16px ' + FONT, fill: '#000', textVerticalAlign: 'middle'}});
graphics.push({type: 'text', x: 286, y: 1275, style: {text: 'Elevational zones', font: '16px ' + FONT, fill: '#000', textVerticalAlign: 'middle'}});
legCols.forEach(lc => {
  for (let k = 0; k < 6; k++) {
    const idx = lc.start + k, y = legY0 + k * legDy;
    graphics.push({type: 'circle', shape: {cx: lc.lx + 8, cy: y, r: 4}, style: {fill: palette[idx], opacity: 0.12}});
    graphics.push({type: 'line', shape: {x1: lc.lx, y1: y, x2: lc.lx + 16, y2: y}, style: {stroke: palette[idx], lineWidth: 3}});
    graphics.push({type: 'text', x: lc.tx, y: y, style: {text: lc.labels[idx], font: '15px ' + FONT, fill: '#1a1a1a', textVerticalAlign: 'middle'}});
  }
});

const chart = echarts.init(document.getElementById('c'), null, {renderer: 'canvas'});
chart.setOption({
  animation: false,
  backgroundColor: '#fff',
  grid: grids, xAxis: xAxes, yAxis: yAxes, series: series,
  graphic: {elements: graphics}
});
</script>
</body></html>
